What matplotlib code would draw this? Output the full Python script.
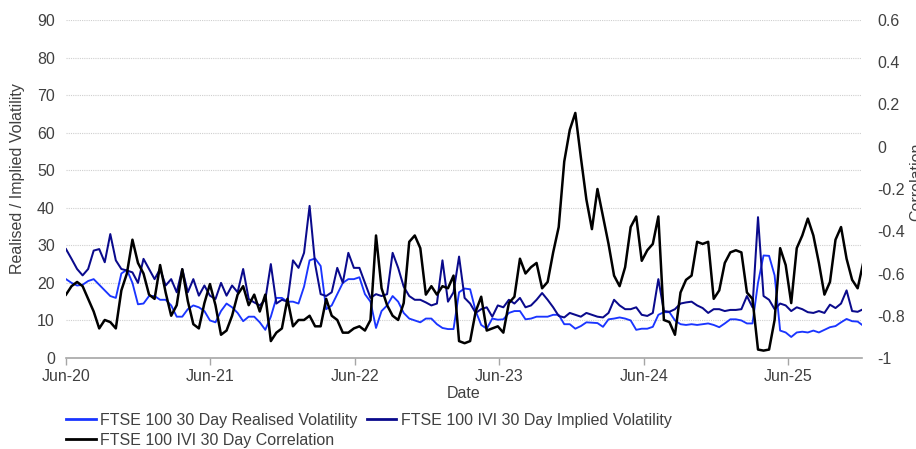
import numpy as np
import pandas as pd
import matplotlib
matplotlib.use("Agg")
import matplotlib.pyplot as plt
import matplotlib.dates as mdates
from matplotlib.ticker import FuncFormatter

plt.rcParams['font.family'] = ['Liberation Sans', 'DejaVu Sans']

# ---- data (bi-weekly readings, starting 1 Jun 2020) ----
start_date = "2020-06-01"
step = "14D"

implied_vol = [
    29, 26.4, 23.7, 22, 23.7, 28.6, 29, 25.5, 33, 26,
    23.7, 23.3, 22.8, 20, 26.4, 23.7, 21, 23.7, 19.3, 21,
    17.5, 23.7, 17.5, 21, 16.6, 19.3, 16.6, 15.7, 20, 16.6,
    19.3, 17.5, 23.7, 15.7, 14.8, 14, 15.5, 25, 14.5, 15.5,
    15, 26, 24, 28, 40.5, 25, 17, 16.5, 17.5, 24,
    20, 28, 24, 24, 20, 16, 17, 16.5, 17, 28,
    24, 19, 16.5, 15.5, 15.5, 14.8, 14, 14.5, 26, 15,
    17.5, 27, 16, 14.5, 12, 13, 13.5, 11, 14, 13.5,
    15.5, 14.5, 16, 13.5, 14, 15.5, 17.3, 15.5, 13.5, 11.2,
    10.8, 12, 11.5, 11, 12, 11.5, 11, 10.8, 12, 15.5,
    14, 13, 13, 13.5, 11.5, 11.2, 12, 21, 12.5, 12.3,
    13, 14.5, 14.8, 15, 14, 13.3, 12, 13, 13, 12.5,
    12.8, 12.8, 13, 16.5, 13.5, 37.5, 16.5, 15.5, 13, 14.5,
    14, 12.5, 13.5, 13, 12.2, 12, 12.5, 12, 14.2, 13.3,
    14.5, 18, 12.5, 12.3, 13,
]

realised_vol = [
    21, 20, 19.3, 19.5, 20.5, 21, 19.5, 18, 16.5, 16,
    22.5, 23.5, 20, 14.3, 14.5, 16.5, 16.5, 15.5, 15.5, 14,
    11, 11, 13, 14, 13.5, 12.5, 10, 9.5, 12.5, 14.5,
    13.5, 12, 9.8, 11, 11, 9.5, 7.5, 11, 16, 16,
    15, 15, 14.5, 19, 26, 26.5, 24.5, 13, 14, 17,
    20, 21, 21, 21.5, 17, 15, 8, 12.5, 14, 16.5,
    15, 12, 10.5, 10, 9.5, 10.5, 10.5, 9, 8, 7.7,
    7.7, 17.5, 18.5, 18.3, 12.5, 8.8, 7.8, 10.5, 10.2, 10.3,
    12, 12.5, 12.5, 10.3, 10.5, 11, 11, 11, 11.5, 11.5,
    9, 9, 7.8, 8.5, 9.5, 9.4, 9.3, 8.3, 10.3, 10.5,
    10.8, 10.5, 10, 7.5, 7.8, 7.8, 8.3, 11.5, 12.2, 12.2,
    10, 9, 8.8, 9, 8.8, 9, 9.2, 8.8, 8.2, 9.2,
    10.3, 10.3, 10, 9.2, 9.2, 20, 27.3, 27.2, 22, 7.3,
    6.8, 5.6, 6.8, 7, 6.8, 7.3, 6.8, 7.5, 8.2, 8.5,
    9.5, 10.4, 9.8, 9.7, 8.6,
]

correlation = [
    -0.70, -0.66, -0.64, -0.66, -0.72, -0.78, -0.86, -0.82, -0.83, -0.86,
    -0.68, -0.60, -0.44, -0.55, -0.60, -0.70, -0.72, -0.56, -0.69, -0.80,
    -0.75, -0.58, -0.73, -0.84, -0.86, -0.74, -0.65, -0.75, -0.89, -0.87,
    -0.80, -0.70, -0.66, -0.75, -0.70, -0.78, -0.70, -0.92, -0.88, -0.86,
    -0.72, -0.85, -0.82, -0.82, -0.80, -0.85, -0.85, -0.72, -0.80, -0.82,
    -0.88, -0.88, -0.86, -0.85, -0.87, -0.82, -0.42, -0.67, -0.75, -0.80,
    -0.82, -0.74, -0.45, -0.42, -0.48, -0.70, -0.66, -0.70, -0.66, -0.67,
    -0.61, -0.92, -0.93, -0.92, -0.78, -0.71, -0.87, -0.86, -0.85, -0.88,
    -0.74, -0.71, -0.53, -0.60, -0.57, -0.55, -0.67, -0.64, -0.50, -0.38,
    -0.07, 0.08, 0.16, -0.05, -0.25, -0.39, -0.20, -0.33, -0.46, -0.61,
    -0.66, -0.57, -0.38, -0.33, -0.54, -0.49, -0.46, -0.33, -0.82, -0.83,
    -0.89, -0.69, -0.63, -0.61, -0.45, -0.46, -0.45, -0.72, -0.68, -0.55,
    -0.50, -0.49, -0.50, -0.69, -0.72, -0.96, -0.965, -0.96, -0.82, -0.48,
    -0.56, -0.74, -0.48, -0.42, -0.34, -0.42, -0.55, -0.70, -0.64, -0.44,
    -0.38, -0.53, -0.63, -0.67, -0.55,
]

series_labels = [
    "FTSE 100 30 Day Realised Volatility",
    "FTSE 100 IVI 30 Day Implied Volatility",
    "FTSE 100 IVI 30 Day Correlation",
]
left_ticks = [0, 10, 20, 30, 40, 50, 60, 70, 80, 90]
right_ticks = [-1, -0.8, -0.6, -0.4, -0.2, 0, 0.2, 0.4, 0.6]

dates = pd.date_range(start_date, periods=len(implied_vol), freq=step)

# ---- styling ----
C_REAL = "#1a35ff"
C_IMPL = "#0a0a8c"
C_CORR = "#000000"
TXT = "#404040"
FS = 11.5

W, H = 916, 449
fig = plt.figure(figsize=(W / 100, H / 100), dpi=100)
L, R, T, B = 66, 862, 20, 358
ax = fig.add_axes([L / W, 1 - B / H, (R - L) / W, (B - T) / H])
ax2 = ax.twinx()

l1, = ax.plot(dates, realised_vol, color=C_REAL, lw=1.35, label=series_labels[0])
l2, = ax.plot(dates, implied_vol, color=C_IMPL, lw=1.45, label=series_labels[1])
l3, = ax2.plot(dates, correlation, color=C_CORR, lw=1.8, label=series_labels[2])

ax.set_ylim(0, 90)
ax.set_yticks(left_ticks)
ax2.set_ylim(-1, 0.6)
ax2.set_yticks(right_ticks)
ax2.yaxis.set_major_formatter(FuncFormatter(lambda v, p: f"{v:g}"))

ax.set_xlim(pd.Timestamp("2020-06-01"), pd.Timestamp("2025-12-05"))
ax.xaxis.set_major_locator(mdates.MonthLocator(bymonth=6, bymonthday=1))
ax.xaxis.set_major_formatter(mdates.DateFormatter("%b-%y"))

ax.grid(axis="y", color="#cfcfcf", linestyle=(0, (1, 1)), linewidth=0.8)
ax.set_axisbelow(True)

for a in (ax, ax2):
    for s in ("left", "right", "top"):
        a.spines[s].set_visible(False)
    a.spines["bottom"].set_color("#a6a6a6")
    a.spines["bottom"].set_linewidth(1.2)
ax2.spines["bottom"].set_visible(False)

ax.tick_params(axis="y", length=0, labelsize=FS, labelcolor=TXT, pad=8)
ax2.tick_params(axis="y", length=0, labelsize=FS, labelcolor=TXT, pad=11)
ax.tick_params(axis="x", length=5, color="#a6a6a6", width=1.0,
               labelsize=FS, labelcolor=TXT, pad=3)

ax.set_xlabel("Date", fontsize=FS, color=TXT, labelpad=1)
ax.set_ylabel("Realised / Implied Volatility", fontsize=FS, color=TXT)
ax.yaxis.set_label_coords(-41 / (R - L), 0.53)
fig.text(909 / W, 1 - 182 / H, "Correlation", rotation=90, ha="left",
         va="center", fontsize=FS, color=TXT)

fig.legend([l1, l3, l2], [series_labels[0], series_labels[2], series_labels[1]],
           loc="upper left", bbox_to_anchor=(66 / W, 1 - 413 / H), ncol=2,
           frameon=False, fontsize=FS, labelcolor=TXT, handlelength=1.85,
           handletextpad=0.3, columnspacing=0.55, labelspacing=0.3,
           borderpad=0, borderaxespad=0)
for h in fig.legends[0].get_lines():
    h.set_linewidth(2.0)

fig.savefig("out.png", dpi=100)
